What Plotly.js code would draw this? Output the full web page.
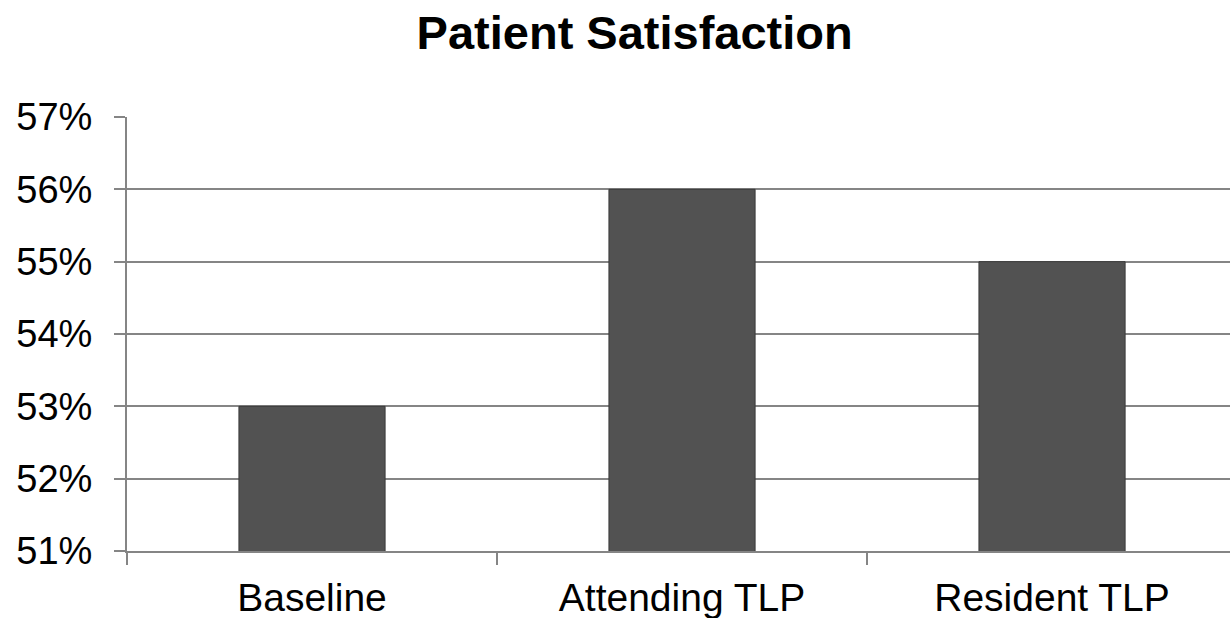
<!DOCTYPE html>
<html>
<head>
<meta charset="utf-8">
<script src="https://cdn.plot.ly/plotly-3.0.1.min.js"></script>
<style>
  html, body { margin: 0; padding: 0; background: #ffffff; }
  #chart { width: 1230px; height: 618px; }
</style>
</head>
<body>
<div id="chart"></div>
<script>
const categories = ["Baseline", "Attending TLP", "Resident TLP"];
const satisfaction = [0.53, 0.56, 0.55];
const chartTitle = "Patient Satisfaction";

const gridColor = "#858585";

const trace = {
  type: "bar",
  x: categories,
  y: satisfaction,
  width: 0.395,
  marker: { color: "#525252", line: { color: "#3a3a3a", width: 1 } },
  hoverinfo: "x+y"
};

const layout = {
  width: 1230,
  height: 618,
  margin: { l: 127, r: 0, t: 117, b: 67, pad: 0 },
  paper_bgcolor: "#ffffff",
  plot_bgcolor: "#ffffff",
  showlegend: false,
  font: { family: "Liberation Sans, Arial, sans-serif", color: "#000000" },
  title: {
    text: "<b>" + chartTitle + "</b>",
    font: { size: 47, family: "Liberation Sans, Arial, sans-serif", color: "#000000" },
    xref: "container", x: 0.516, xanchor: "center",
    yref: "container", y: 0.947, yanchor: "middle"
  },
  xaxis: {
    type: "category",
    range: [-0.5, 2.481],
    showgrid: false,
    showline: true, linecolor: gridColor, linewidth: 2,
    ticks: "outside", tickson: "boundaries", ticklen: 12, tickwidth: 1.5, tickcolor: gridColor,
    tickfont: { size: 39, color: "#000000" },
    ticklabelstandoff: 11
  },
  yaxis: {
    range: [0.51, 0.57],
    dtick: 0.01,
    tick0: 0.51,
    tickformat: ".0%",
    showgrid: true, gridcolor: gridColor, gridwidth: 2,
    zeroline: false,
    showline: true, linecolor: gridColor, linewidth: 2,
    ticks: "outside", ticklen: 11, tickwidth: 2, tickcolor: gridColor,
    tickfont: { size: 38, color: "#000000" },
    ticklabelstandoff: 14
  },
  bargap: 0.6
};

Plotly.newPlot("chart", [trace], layout, { displayModeBar: false, staticPlot: true });
</script>
</body>
</html>
